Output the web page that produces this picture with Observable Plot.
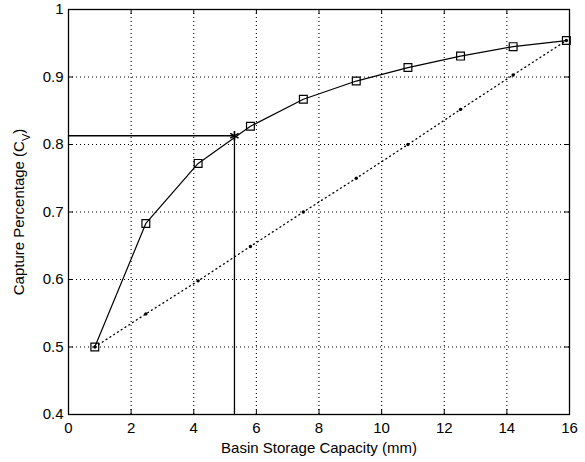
<!DOCTYPE html>
<html><head><meta charset="utf-8">
<script src="https://cdn.jsdelivr.net/npm/d3@7"></script>
<script src="https://cdn.jsdelivr.net/npm/@observablehq/plot@0.6"></script>
<style>body{margin:0;background:#fff}</style>
</head><body><div id="chart"></div>
<script>
// Data
const storage = [0.84, 2.47, 4.14, 5.81, 7.5, 9.19, 10.84, 12.52, 14.2, 15.9];
const capture = [0.5, 0.683, 0.772, 0.827, 0.867, 0.894, 0.914, 0.931, 0.945, 0.954];
const linearCapture = [0.5, 0.549, 0.598, 0.649, 0.7, 0.75, 0.8, 0.852, 0.903, 0.954];
const designStorage = 5.3;
const designCapture = 0.813;
const xTicks = [0, 2, 4, 6, 8, 10, 12, 14, 16];
const yTicks = [0.4, 0.5, 0.6, 0.7, 0.8, 0.9, 1];
const xLabel = "Basin Storage Capacity (mm)";
const yLabelMain = "Capture Percentage (C";
const yLabelSub = "V";

const W = 585, H = 462;
const mL = 68, mR = 16, mT = 9, mB = 48;
const innerW = W - mL - mR, innerH = H - mT - mB;

const curve = storage.map((s, i) => ({x: s, y: capture[i]}));
const linear = storage.map((s, i) => ({x: s, y: linearCapture[i]}));
const design = [
  {x: xTicks[0], y: designCapture},
  {x: designStorage, y: designCapture},
  {x: designStorage, y: yTicks[0]}
];

const chart = Plot.plot({
  width: W, height: H,
  marginLeft: mL, marginRight: mR, marginTop: mT, marginBottom: mB,
  style: {fontFamily: "'Liberation Sans', Arial, sans-serif", fontSize: "15px", background: "#fff", color: "#000"},
  x: {domain: [0, 16], ticks: xTicks},
  y: {domain: [0.4, 1], ticks: yTicks},
  marks: [
    Plot.ruleX(xTicks.slice(1, -1), {x: d => d, stroke: "#000", strokeWidth: 1.1, strokeDasharray: "1,3"}),
    Plot.ruleY(yTicks.slice(1, -1), {y: d => d, stroke: "#000", strokeWidth: 1.1, strokeDasharray: "1,3"}),
    Plot.tickX(xTicks, {x: d => d, insetTop: innerH - 5, stroke: "#000"}),
    Plot.tickX(xTicks, {x: d => d, insetBottom: innerH - 5, stroke: "#000"}),
    Plot.tickY(yTicks, {y: d => d, insetRight: innerW - 5, stroke: "#000"}),
    Plot.tickY(yTicks, {y: d => d, insetLeft: innerW - 5, stroke: "#000"}),
    Plot.axisX({ticks: xTicks, tickSize: 0, tickPadding: 8, label: null, fontSize: 15, tickFormat: d => String(d)}),
    Plot.axisY({ticks: yTicks, tickSize: 0, tickPadding: 5, label: null, fontSize: 15, tickFormat: d => String(d)}),
    Plot.line(design, {x: "x", y: "y", stroke: "#000", strokeWidth: 1.3}),
    Plot.line(linear, {x: "x", y: "y", stroke: "#000", strokeWidth: 1.3, strokeDasharray: "1,3.5"}),
    Plot.dot(linear, {x: "x", y: "y", r: 1.7, fill: "#000"}),
    Plot.line(curve, {x: "x", y: "y", stroke: "#000", strokeWidth: 1.2}),
    Plot.dot(curve, {x: "x", y: "y", symbol: "square", r: 4.4, stroke: "#000", strokeWidth: 1.2, fill: "none"}),
    Plot.dot([{x: designStorage, y: designCapture}], {x: "x", y: "y", symbol: "asterisk", r: 4.5, stroke: "#000", strokeWidth: 1.6}),
    Plot.frame({stroke: "#000", strokeWidth: 1.3}),
    Plot.text([xLabel], {frameAnchor: "bottom", dy: 34, lineAnchor: "middle", textAnchor: "middle", text: d => d, fontSize: 15, fill: "#000"}),
    Plot.text([yLabelMain], {frameAnchor: "left", dx: -49, rotate: -90, lineAnchor: "middle", textAnchor: "middle", text: d => d, fontSize: 15, fill: "#000"})
  ]
});

// add subscript to the y-axis label
d3.select(chart).selectAll("text").each(function() {
  const t = d3.select(this);
  if (t.text() === yLabelMain) {
    t.append("tspan").attr("baseline-shift", "sub").attr("font-size", "11px").text(yLabelSub);
    t.append("tspan").text(")");
  }
});

document.getElementById("chart").appendChild(chart);
</script>
</body></html>
